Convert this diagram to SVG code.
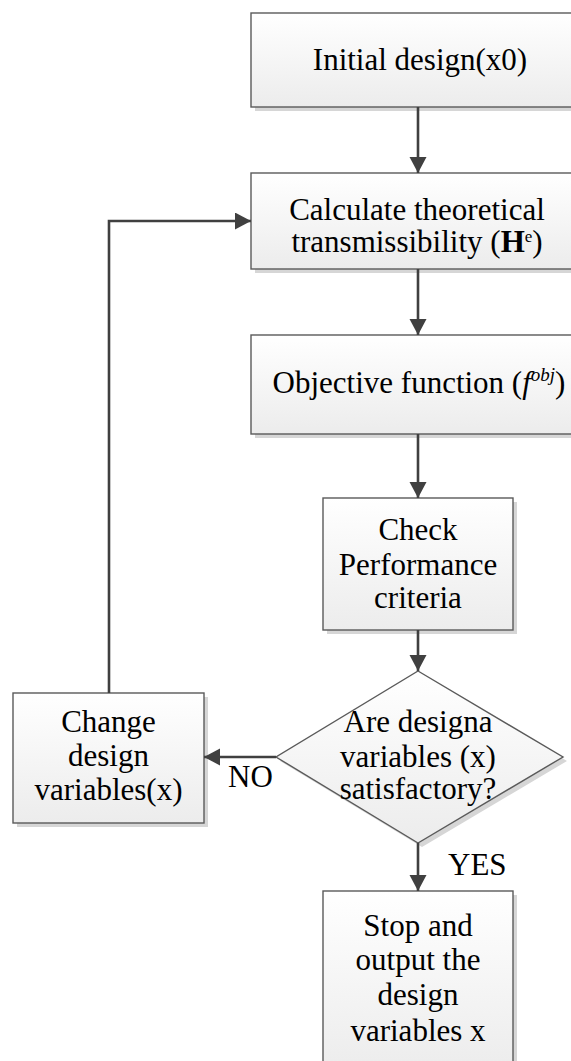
<svg xmlns="http://www.w3.org/2000/svg" width="571" height="1061" viewBox="0 0 571 1061">
<style>
.box{fill:url(#g);stroke:#5a5a5a;stroke-width:1.4}
.sh{fill:#d6d6d6}
.t{font-family:"Liberation Serif","Times New Roman",serif;font-size:31px;fill:#000;text-anchor:middle}
.lbl{font-family:"Liberation Serif","Times New Roman",serif;font-size:31px;fill:#000}
.c{fill:none;stroke:#404040;stroke-width:2.6}
</style>
<defs>
<linearGradient id="g" x1="0" y1="0" x2="0" y2="1">
<stop offset="0" stop-color="#ffffff"/>
<stop offset="1" stop-color="#ececec"/>
</linearGradient>
<marker id="a" markerUnits="userSpaceOnUse" markerWidth="18" markerHeight="18" refX="16" refY="8.5" orient="auto">
<path d="M0,0 L16,8.5 L0,17 Z" fill="#404040"/>
</marker>
</defs>
<rect width="571" height="1061" fill="#fff"/>
<g id="n1">
<rect class="sh" x="255" y="17" width="334" height="94"/>
<rect class="box" x="251" y="13" width="334" height="94"/>
<text class="t" x="420" y="70">Initial design(x0)</text>
</g>
<g id="n2">
<rect class="sh" x="255" y="177" width="334" height="96"/>
<rect class="box" x="251" y="173" width="334" height="96"/>
<text class="t" x="417" y="220">Calculate theoretical</text>
<text class="t" x="417" y="252">transmissibility (<tspan font-weight="bold">H</tspan><tspan font-size="17" dy="-10">e</tspan><tspan dy="10">)</tspan></text>
</g>
<g id="n3">
<rect class="sh" x="255" y="339" width="334" height="99"/>
<rect class="box" x="251" y="335" width="334" height="99"/>
<text class="t" x="419" y="393">Objective function (<tspan font-style="italic">f</tspan><tspan font-style="italic" font-size="19" dy="-12">obj</tspan><tspan dy="12">)</tspan></text>
</g>
<g id="n4">
<rect class="sh" x="327" y="502" width="190" height="132"/>
<rect class="box" x="323" y="498" width="190" height="132"/>
<text class="t" x="418" y="540">Check</text>
<text class="t" x="418" y="575">Performance</text>
<text class="t" x="418" y="608">criteria</text>
</g>
<g id="n5">
<polygon class="sh" points="422,675 567,761 422,847 280,761"/>
<polygon class="box" points="418,671 563,757 418,843 276,757"/>
<text class="t" x="418" y="732">Are designa</text>
<text class="t" x="418" y="767">variables (x)</text>
<text class="t" x="418" y="799">satisfactory?</text>
</g>
<g id="n6">
<rect class="sh" x="17" y="697" width="191" height="130"/>
<rect class="box" x="13" y="693" width="191" height="130"/>
<text class="t" x="108.5" y="732">Change</text>
<text class="t" x="108.5" y="766">design</text>
<text class="t" x="108.5" y="800">variables(x)</text>
</g>
<g id="n7">
<rect class="sh" x="327" y="895" width="190" height="180"/>
<rect class="box" x="323" y="891" width="190" height="180"/>
<text class="t" x="418" y="936">Stop and</text>
<text class="t" x="418" y="970">output the</text>
<text class="t" x="418" y="1005">design</text>
<text class="t" x="418" y="1041">variables x</text>
</g>
<g id="connectors">
<line class="c" x1="418" y1="107" x2="418" y2="173" marker-end="url(#a)"/>
<line class="c" x1="418" y1="269" x2="418" y2="335" marker-end="url(#a)"/>
<line class="c" x1="418" y1="434" x2="418" y2="498" marker-end="url(#a)"/>
<line class="c" x1="418" y1="630" x2="418" y2="671" marker-end="url(#a)"/>
<line class="c" x1="276" y1="757" x2="204" y2="757" marker-end="url(#a)"/>
<line class="c" x1="418" y1="843" x2="418" y2="891" marker-end="url(#a)"/>
<polyline class="c" points="109,693 109,221 251,221" marker-end="url(#a)"/>
<text class="lbl" x="228" y="787">NO</text>
<text class="lbl" x="448" y="875">YES</text>
</g>
</svg>
